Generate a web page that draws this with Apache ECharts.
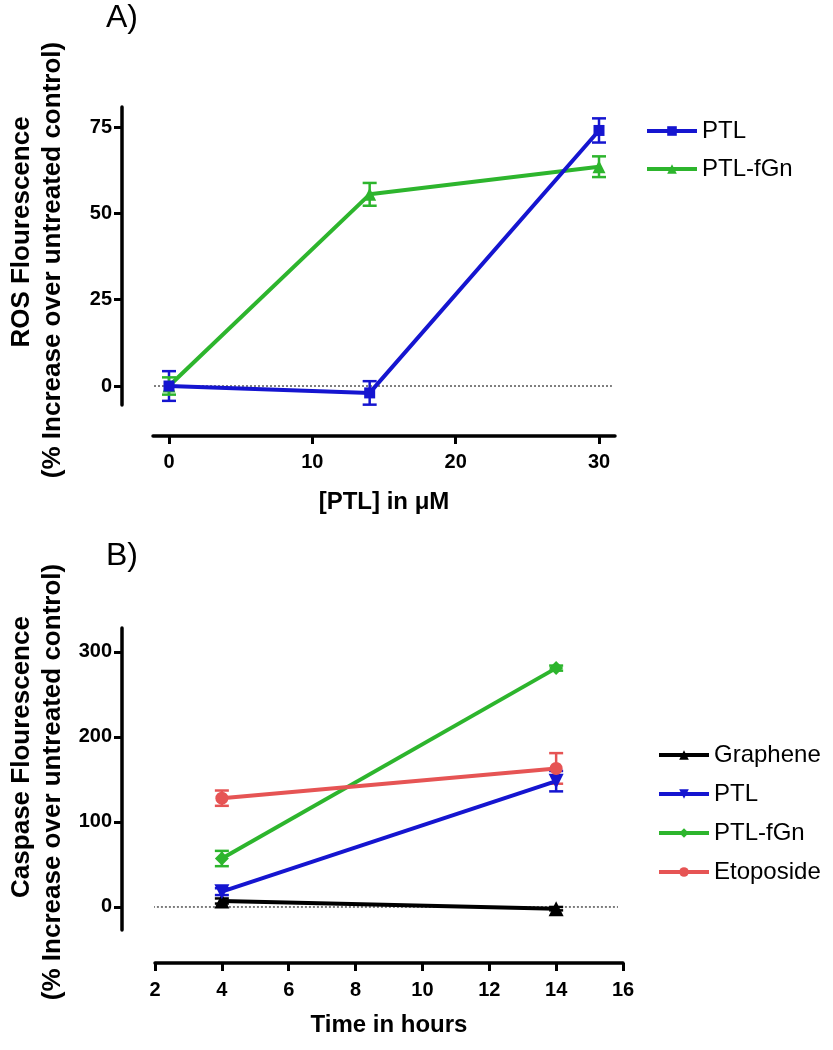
<!DOCTYPE html>
<html>
<head>
<meta charset="utf-8">
<script src="https://cdn.jsdelivr.net/npm/echarts@6/dist/echarts.min.js"></script>
<style>
html,body{margin:0;padding:0;background:#fff;}
#c{width:833px;height:1050px;}
</style>
</head>
<body>
<div id="c"></div>
<script>
// ---------- Panel A data ----------
const concA = [0, 14, 30];
const ptlA = [0, -2, 74];
const ptlAErr = [4.3, 3.4, 3.5];
const fgnA = [0, 55.5, 63.5];
const fgnAErr = [2.5, 3.3, 3];
const ticksAX = [0, 10, 20, 30];
const ticksAY = [0, 25, 50, 75];
const baselineAX = [-3, 30.9];   // extent of dotted zero reference line
const baselineY = [0, 0];

// ---------- Panel B data ----------
const hoursB = [4, 14];
const grapheneB = [7, -2];
const grapheneBErr = [3, 2];
const ptlB = [18, 148];
const ptlBErr = [4, 12];
const fgnB = [57, 281];
const fgnBErr = [9, 3];
const etoB = [128, 163];
const etoBErr = [9, 18];
const ticksBY = [0, 100, 200, 300];
const baselineBX = [1.1, 15.85];

const BLUE = '#1515d0', GREEN = '#2db52d', RED = '#e65454', BLACK = '#000000';
const FONT = 'Liberation Sans';

function pts(xs, ys){ return xs.map((x,i)=>[x, ys[i]]); }
function errs(xs, ys, es){ return xs.map((x,i)=>[x, ys[i]-es[i], ys[i]+es[i]]); }

function errSeries(name, idx, xs, ys, es, color){
  return {
    name: name, type: 'custom', xAxisIndex: idx, yAxisIndex: idx, z: 3,
    data: errs(xs, ys, es),
    renderItem: function(params, api){
      const x = api.value(0);
      const a = api.coord([x, api.value(1)]);
      const b = api.coord([x, api.value(2)]);
      const w = 7;
      const st = {stroke: color, lineWidth: 2.5};
      return {type:'group', children:[
        {type:'line', shape:{x1:a[0], y1:a[1], x2:b[0], y2:b[1]}, style: st},
        {type:'line', shape:{x1:a[0]-w, y1:a[1], x2:a[0]+w, y2:a[1]}, style: st},
        {type:'line', shape:{x1:b[0]-w, y1:b[1], x2:b[0]+w, y2:b[1]}, style: st}
      ]};
    }
  };
}

function lineSeries(name, idx, xs, ys, color, symbol, size, rotate){
  return {
    name: name, type: 'line', xAxisIndex: idx, yAxisIndex: idx, z: 4,
    data: pts(xs, ys), symbol: symbol, symbolSize: size, symbolRotate: rotate || 0,
    showSymbol: true, animation: false,
    lineStyle: {color: color, width: 4},
    itemStyle: {color: color},
    emphasis: {disabled: true}
  };
}

function zeroLine(idx, xs){
  return {
    name: 'zero' + idx, type: 'line', xAxisIndex: idx, yAxisIndex: idx, z: 1,
    data: pts(xs, baselineY), clip: false, silent: true, symbol: 'none',
    lineStyle: {color: '#555', type: [2, 2], width: 1.5},
    emphasis: {disabled: true}
  };
}

const axisLineStyle = {show: true, onZero: false, lineStyle: {color: '#000', width: 3.5}};
const axisTickStyle = {show: true, length: 8, lineStyle: {color: '#000', width: 3}};
const labelStyle = {color: '#000', fontFamily: FONT, fontWeight: 'bold', fontSize: 20};

const chart = echarts.init(document.getElementById('c'), null, {renderer: 'canvas'});
chart.setOption({
  animation: false,
  backgroundColor: '#fff',
  grid: [
    {left: 153, top: 107, width: 462, height: 298},
    {left: 155, top: 628, width: 468, height: 302}
  ],
  xAxis: [
    {type: 'value', gridIndex: 0, min: -1.116, max: 31.116, offset: 31,
     axisLine: axisLineStyle,
     axisTick: Object.assign({}, axisTickStyle, {customValues: ticksAX}),
     axisLabel: Object.assign({}, labelStyle, {customValues: ticksAX, margin: 16}),
     splitLine: {show: false},
     name: '[PTL] in \u03bcM', nameLocation: 'middle', nameGap: 54,
     nameTextStyle: {color: '#000', fontFamily: FONT, fontWeight: 'bold', fontSize: 24}},
    {type: 'value', gridIndex: 1, min: 2, max: 16, interval: 2, offset: 33,
     axisLine: axisLineStyle, axisTick: axisTickStyle,
     axisLabel: Object.assign({}, labelStyle, {margin: 17}),
     splitLine: {show: false},
     name: 'Time in hours', nameLocation: 'middle', nameGap: 50,
     nameTextStyle: {color: '#000', fontFamily: FONT, fontWeight: 'bold', fontSize: 24}}
  ],
  yAxis: [
    {type: 'value', gridIndex: 0, min: -5.5, max: 80.79, offset: 31,
     axisLine: axisLineStyle,
     axisTick: Object.assign({}, axisTickStyle, {customValues: ticksAY}),
     axisLabel: Object.assign({}, labelStyle, {customValues: ticksAY, margin: 10}),
     splitLine: {show: false}},
    {type: 'value', gridIndex: 1, min: -27.1, max: 328.2, offset: 33,
     axisLine: axisLineStyle,
     axisTick: Object.assign({}, axisTickStyle, {customValues: ticksBY}),
     axisLabel: Object.assign({}, labelStyle, {customValues: ticksBY, margin: 10}),
     splitLine: {show: false}}
  ],
  legend: [
    {data: ['PTL', 'PTL-fGn'], left: 640, top: 114, orient: 'vertical',
     itemWidth: 50, itemHeight: 12, itemGap: 14,
     lineStyle: {width: 4},
     formatter: n => n.trim(),
     textStyle: {color: '#000', fontFamily: FONT, fontSize: 24}},
    {data: ['Graphene', 'PTL ', 'PTL-fGn ', 'Etoposide'], left: 652, top: 738, orient: 'vertical',
     itemWidth: 50, itemHeight: 12, itemGap: 15,
     lineStyle: {width: 4},
     formatter: n => n.trim(),
     textStyle: {color: '#000', fontFamily: FONT, fontSize: 24}}
  ],
  graphic: [
    {type: 'text', left: 106, top: 2, style: {text: 'A)', font: '32px "Liberation Sans"', fill: '#000'}},
    {type: 'text', left: 106, top: 540, style: {text: 'B)', font: '32px "Liberation Sans"', fill: '#000'}},
    {type: 'text', x: 22, y: 232, rotation: Math.PI/2, style: {text: 'ROS Flourescence', font: 'bold 26px "Liberation Sans"', fill: '#000', align: 'center', verticalAlign: 'middle'}},
    {type: 'text', x: 53, y: 260, rotation: Math.PI/2, style: {text: '(% Increase over untreated control)', font: 'bold 26px "Liberation Sans"', fill: '#000', align: 'center', verticalAlign: 'middle'}},
    {type: 'text', x: 22, y: 757, rotation: Math.PI/2, style: {text: 'Caspase Flourescence', font: 'bold 26px "Liberation Sans"', fill: '#000', align: 'center', verticalAlign: 'middle'}},
    {type: 'text', x: 53, y: 782, rotation: Math.PI/2, style: {text: '(% Increase over untreated control)', font: 'bold 26px "Liberation Sans"', fill: '#000', align: 'center', verticalAlign: 'middle'}}
  ],
  series: [
    zeroLine(0, baselineAX),
    zeroLine(1, baselineBX),
    errSeries('errPTL_A', 0, concA, ptlA, ptlAErr, BLUE),
    errSeries('errFGN_A', 0, concA, fgnA, fgnAErr, GREEN),
    lineSeries('PTL-fGn', 0, concA, fgnA, GREEN, 'triangle', 13),
    lineSeries('PTL', 0, concA, ptlA, BLUE, 'rect', 11),
    errSeries('errGR_B', 1, hoursB, grapheneB, grapheneBErr, BLACK),
    errSeries('errPTL_B', 1, hoursB, ptlB, ptlBErr, BLUE),
    errSeries('errFGN_B', 1, hoursB, fgnB, fgnBErr, GREEN),
    errSeries('errETO_B', 1, hoursB, etoB, etoBErr, RED),
    lineSeries('Graphene', 1, hoursB, grapheneB, BLACK, 'triangle', 15),
    lineSeries('PTL ', 1, hoursB, ptlB, BLUE, 'triangle', 15, 180),
    lineSeries('PTL-fGn ', 1, hoursB, fgnB, GREEN, 'diamond', 14),
    lineSeries('Etoposide', 1, hoursB, etoB, RED, 'circle', 13)
  ]
});
</script>
</body>
</html>
